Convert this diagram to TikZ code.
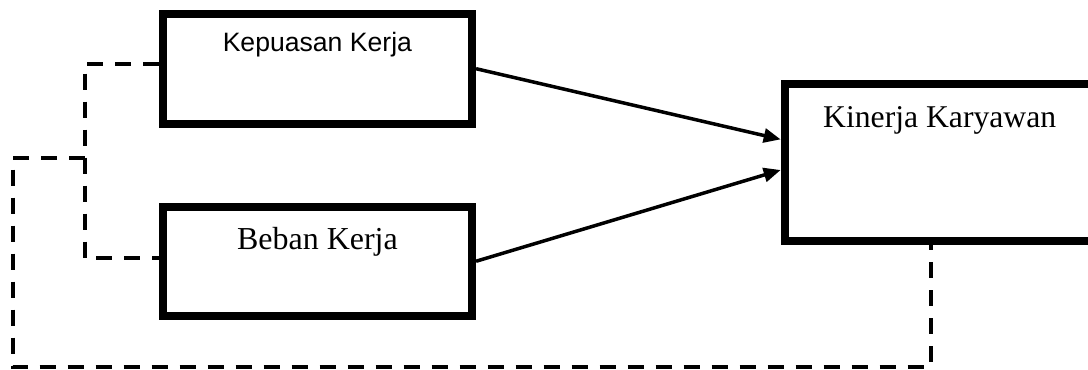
\documentclass[tikz,border=0pt]{standalone}
\usepackage{fontspec}
\setmainfont{Liberation Serif}
\newfontfamily\arialfont{Liberation Sans}
\usetikzlibrary{arrows.meta}
\begin{document}
\begin{tikzpicture}[
	x=1bp, y=-1bp,
	line width=4bp,
	box/.style={draw, line width=8bp, minimum width=309.3bp, inner sep=0pt},
	link/.style={-{Triangle[length=17bp,width=14bp]}, line width=3.5bp},
	loop/.style={dash pattern=on 16bp off 12bp},
	]
	\useasboundingbox (0,0) rectangle (1088,369);
	\node [box, minimum height=110bp, label={[anchor=base, yshift=-41.3bp, font=\arialfont\fontsize{26.7}{30}\selectfont]north:Kepuasan Kerja}] (kepuasan) at (317.4,68.7) {};
	\node [box, minimum height=109.5bp, label={[anchor=base, yshift=-46.5bp, font=\fontsize{32.1}{36}\selectfont]north:Beban Kerja}] (beban) at (317.4,261.25) {};
	\node [box, minimum width=310bp, minimum height=156.2bp, label={[anchor=base, yshift=-47bp, font=\fontsize{31.8}{36}\selectfont]north:Kinerja Karyawan}] (kinerja) at (939.7,162.4) {};
	\coordinate (join) at (85,158);
	% arrows to kinerja
	\draw [link] (kepuasan.east) -- ([yshift=23bp]kinerja.west);
	\draw [link] (beban.east) -- ([yshift=-7.6bp]kinerja.west);
	% dashed correlation lines
	\draw [loop] ([yshift=5bp]kepuasan.west) -- ++(-74,0) |- ([yshift=3bp]beban.west);
	\draw [loop] (join) -- ++(-72.3,0) -- ++(0,208.7) -| ([xshift=-9bp]kinerja.south);
\end{tikzpicture}
\end{document}
